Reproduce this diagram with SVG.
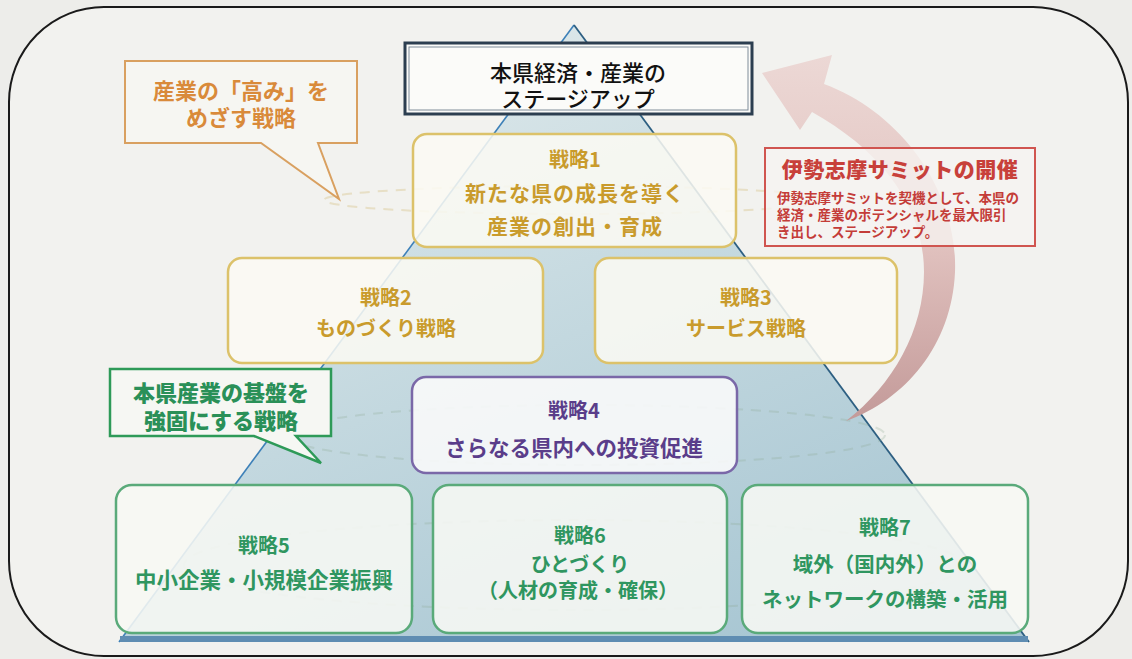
<svg xmlns="http://www.w3.org/2000/svg" width="1132" height="659" viewBox="0 0 1132 659">
<defs>
<linearGradient id="pyr" x1="0.2" y1="0" x2="0.8" y2="1">
<stop offset="0" stop-color="#e2ebec"/>
<stop offset="0.5" stop-color="#c3d8df"/>
<stop offset="1" stop-color="#a6c5d2"/>
</linearGradient>
<linearGradient id="arr" x1="0" y1="0" x2="0" y2="1">
<stop offset="0" stop-color="#ecd8d5"/>
<stop offset="0.5" stop-color="#e2c3c0"/>
<stop offset="1" stop-color="#c39a99"/>
</linearGradient>
<style>
text{font-family:"Noto Sans CJK JP","Noto Sans CJK SC",sans-serif;font-weight:700;text-anchor:middle}
.gold{fill:#c99b2c}
.gbox{fill:#fbfaf3;fill-opacity:0.86;stroke:#dcc26a;stroke-width:2.5}
.green{fill:#2f9660}
.grbox{fill:#f7f8f4;fill-opacity:0.88;stroke:#5aaa7a;stroke-width:2.5}
.ring{fill:none;stroke-width:2;stroke-dasharray:10 8;opacity:0.25}
</style>
</defs>
<rect x="0" y="0" width="1132" height="659" fill="#ededea"/>
<rect x="9" y="7" width="1119" height="649" rx="95" ry="95" fill="#f2f2ef" stroke="#1a1a1a" stroke-width="2"/>

<g id="pyramid">
<polygon points="574,25 119,642 1029,642" fill="url(#pyr)"/>
<line x1="574" y1="25" x2="119" y2="642" stroke="#3d80b8" stroke-width="1.6"/>
<line x1="574" y1="25" x2="1029" y2="642" stroke="#2d5f82" stroke-width="1.8"/>
<rect x="120" y="636" width="908" height="6" fill="#5f8db2"/>
</g>

<g id="rings">
<ellipse cx="574" cy="200" rx="250" ry="14" class="ring" stroke="#c9a64a"/>
<ellipse cx="585" cy="435" rx="300" ry="30" class="ring" stroke="#8aa890"/>
<ellipse cx="574" cy="565" rx="390" ry="45" class="ring" stroke="#8aa890"/>
</g>

<g id="connectors">
<path d="M762,73 L832,55 L824,84 C900,112 958,190 955,272 C952,345 905,400 846,421 C893,385 924,330 924,272 C924,205 880,150 812,112 L800,130 Z" fill="url(#arr)"/>
</g>

<g id="top">
<rect x="405" y="43" width="347" height="71" fill="#fbfbf9" stroke="#2c3e50" stroke-width="3"/>
<rect x="409" y="47" width="339" height="63" fill="none" stroke="#7f8c99" stroke-width="1"/>
<text x="578" y="81" font-size="22" fill="#111" style="font-weight:500">本県経済・産業の</text>
<text x="578" y="107" font-size="22" fill="#111" style="font-weight:500">ステージアップ</text>
</g>

<g id="callout-takami">
<path d="M125,61 H357 V143 H318 L339,199 L261,143 H125 Z" fill="#f6f6f2" stroke="#d9a060" stroke-width="2"/>
<text x="241" y="99" font-size="22" fill="#d98a3a">産業の「高み」を</text>
<text x="241" y="126" font-size="22" fill="#d98a3a">めざす戦略</text>
</g>

<g id="s1">
<rect x="413" y="134" width="323" height="113" rx="14" class="gbox"/>
<text x="575" y="167" font-size="20" class="gold">戦略1</text>
<text x="575" y="201" font-size="21" class="gold" letter-spacing="1">新たな県の成長を導く</text>
<text x="575" y="234" font-size="21" class="gold" letter-spacing="1">産業の創出・育成</text>
</g>

<g id="s2">
<rect x="228" y="258" width="315" height="105" rx="14" class="gbox"/>
<text x="386" y="305" font-size="20" class="gold">戦略2</text>
<text x="386" y="336" font-size="20" class="gold">ものづくり戦略</text>
</g>

<g id="s3">
<rect x="595" y="258" width="302" height="105" rx="14" class="gbox"/>
<text x="746" y="305" font-size="20" class="gold">戦略3</text>
<text x="746" y="336" font-size="20" class="gold">サービス戦略</text>
</g>

<g id="summit">
<rect x="765" y="148" width="270" height="98" fill="#f6f3f1" fill-opacity="0.78" stroke="#d05550" stroke-width="2"/>
<text x="900" y="177" font-size="21" fill="#c8403a" style="font-weight:900" letter-spacing="0.5">伊勢志摩サミットの開催</text>
<g style="font-weight:900" fill="#c43c38" font-size="13.5">
<text x="777" y="203" style="text-anchor:start">伊勢志摩サミットを契機として、本県の</text>
<text x="777" y="220" style="text-anchor:start">経済・産業のポテンシャルを最大限引</text>
<text x="777" y="237" style="text-anchor:start">き出し、ステージアップ。</text>
</g>
</g>

<g id="callout-kiban">
<path d="M110,369 H331 V436 H296 L321,463 L254,436 H110 Z" fill="#f6f7f3" stroke="#2e9a58" stroke-width="2.5"/>
<text x="221" y="401" font-size="22" fill="#2a9058" style="font-weight:900">本県産業の基盤を</text>
<text x="221" y="429" font-size="22" fill="#2a9058" style="font-weight:900">強固にする戦略</text>
</g>

<g id="s4">
<rect x="412" y="377" width="325" height="96" rx="14" fill="#fbfafb" fill-opacity="0.88" stroke="#7a68a8" stroke-width="2.5"/>
<text x="574" y="418" font-size="20" fill="#5a3d8a">戦略4</text>
<text x="574" y="456" font-size="21.5" fill="#5a3d8a">さらなる県内への投資促進</text>
</g>

<g id="s5">
<rect x="116" y="485" width="296" height="148" rx="16" class="grbox"/>
<text x="264" y="553" font-size="20" class="green">戦略5</text>
<text x="264" y="588" font-size="21.5" class="green">中小企業・小規模企業振興</text>
</g>

<g id="s6">
<rect x="433" y="485" width="294" height="148" rx="16" class="grbox"/>
<text x="580" y="543" font-size="20" class="green">戦略6</text>
<text x="580" y="572" font-size="20" class="green">ひとづくり</text>
<text x="578" y="598" font-size="20" class="green">（人材の育成・確保）</text>
</g>

<g id="s7">
<rect x="742" y="485" width="286" height="148" rx="16" class="grbox"/>
<text x="885" y="535" font-size="20" class="green">戦略7</text>
<text x="885" y="572" font-size="20.5" class="green">域外（国内外）との</text>
<text x="885" y="607" font-size="20.5" class="green">ネットワークの構築・活用</text>
</g>
</svg>
